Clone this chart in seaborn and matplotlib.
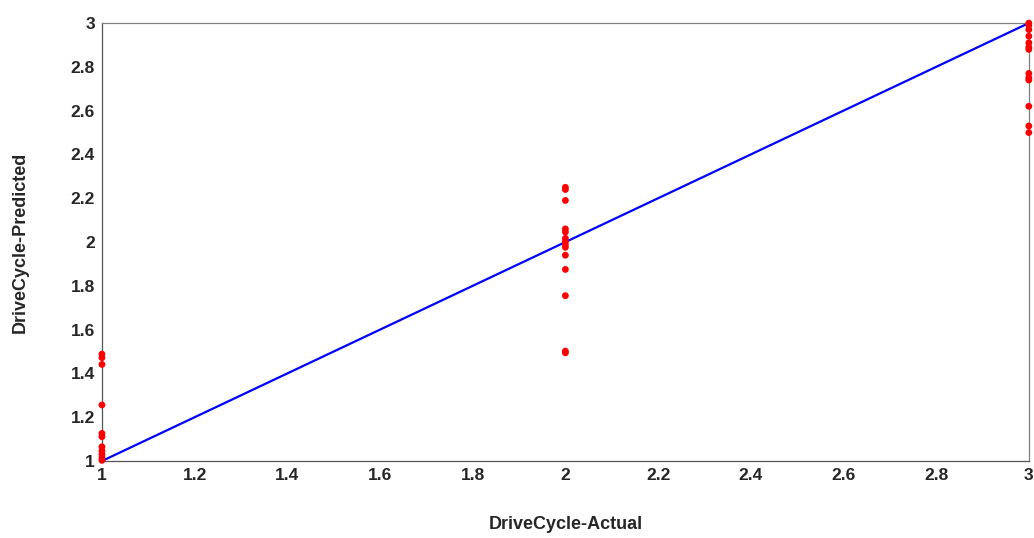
import matplotlib
matplotlib.use("Agg")
import matplotlib.pyplot as plt
import seaborn as sns
import numpy as np
import pandas as pd

actual_1 = [1.0] * 11
pred_1 = [1.488, 1.472, 1.441, 1.256, 1.126, 1.111, 1.065, 1.046, 1.03, 1.015, 1.003]
actual_2 = [2.0] * 14
pred_2 = [2.25, 2.24, 2.19, 2.06, 2.046, 2.017, 2.003, 1.99, 1.976, 1.94, 1.875, 1.755, 1.502, 1.494]
actual_3 = [3.0] * 13
pred_3 = [3.0, 2.99, 2.97, 2.94, 2.91, 2.89, 2.88, 2.77, 2.75, 2.74, 2.62, 2.53, 2.50]
line_x = [1, 3]
line_y = [1, 3]
ticks = [1, 1.2, 1.4, 1.6, 1.8, 2, 2.2, 2.4, 2.6, 2.8, 3]
tick_labels = ["1", "1.2", "1.4", "1.6", "1.8", "2", "2.2", "2.4", "2.6", "2.8", "3"]

df = pd.DataFrame({
    "actual": actual_1 + actual_2 + actual_3,
    "pred": pred_1 + pred_2 + pred_3,
})

sns.set_style("white")
plt.rcParams['font.family'] = ['Liberation Sans', 'DejaVu Sans']

fig = plt.figure(figsize=(10.34, 5.38), dpi=100)
ax = fig.add_axes([0.0986, 0.1431, 0.8964, 0.814])

sns.lineplot(x=line_x, y=line_y, ax=ax, color="#0000ff", linewidth=1.6, zorder=2)
sns.scatterplot(data=df, x="actual", y="pred", ax=ax, color="#ff0000", s=24,
                edgecolor="none", zorder=3, clip_on=False)

ax.set_xlim(1, 3)
ax.set_ylim(1, 3)
ax.set_xticks(ticks)
ax.set_xticklabels(tick_labels)
ax.set_yticks(ticks)
ax.set_yticklabels(tick_labels)
for lab in ax.get_xticklabels() + ax.get_yticklabels():
    lab.set_fontweight("bold")
    lab.set_fontsize(12.5)
    lab.set_color("#262626")
ax.tick_params(direction="in", length=6, width=0.8, color="#555555", pad=5)
for sp in ax.spines.values():
    sp.set_visible(True)
    sp.set_color("#808080")
    sp.set_linewidth(0.9)
ax.spines["left"].set_color("#555555")
ax.spines["bottom"].set_color("#555555")

ax.set_xlabel("DriveCycle-Actual", fontsize=13, fontweight="bold", color="#262626", labelpad=24)
ax.set_ylabel("DriveCycle-Predicted", fontsize=13, fontweight="bold", color="#262626", labelpad=30)

fig.savefig("out.png", dpi=100)
